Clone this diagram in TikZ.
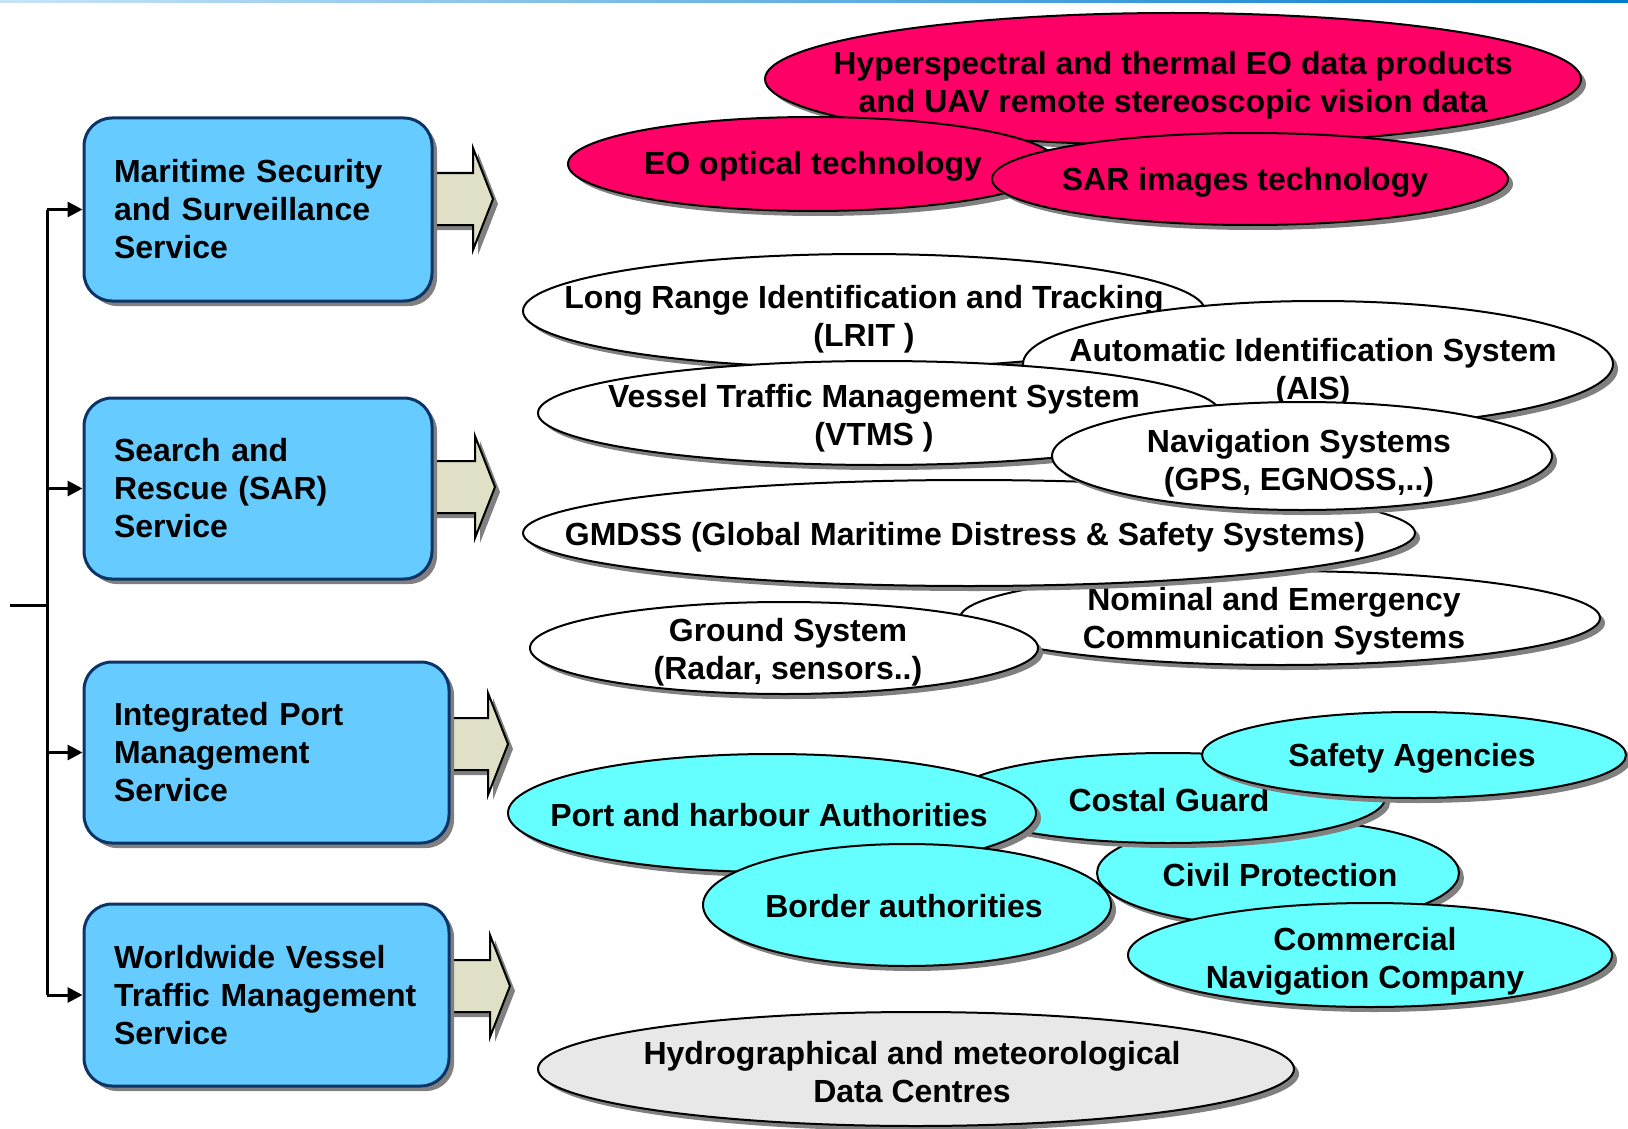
\documentclass[tikz,border=0pt]{standalone}
\usepackage{fontspec}
\setmainfont{Liberation Sans}
\usetikzlibrary{shapes.geometric,shadows,arrows.meta}
\definecolor{boxblue}{RGB}{102,204,255}
\definecolor{boxline}{RGB}{12,52,102}
\definecolor{arrowfill}{RGB}{224,224,198}
\definecolor{redfill}{RGB}{255,0,102}
\definecolor{cyanfill}{RGB}{102,255,255}
\definecolor{grayfill}{RGB}{232,232,232}
\definecolor{shadowgray}{RGB}{128,128,128}
\definecolor{toplight}{RGB}{200,228,248}
\definecolor{topdark}{RGB}{0,122,204}
\newcommand\dfont{\fontsize{16pt}{19pt}\selectfont\bfseries}
\tikzset{
  shadowed/.style={drop shadow={shadow xshift=2.5pt,shadow yshift=-2.5pt,opacity=1,fill=shadowgray}},
  service/.style={shadowed,draw=boxline,line width=1.5pt,fill=boxblue,rounded corners=14pt,
    align=left,inner xsep=15pt,inner ysep=0pt,font=\dfont},
  oval/.style 2 args={ellipse,shadowed,draw=black,line width=1pt,inner sep=0pt,
    minimum width=#1pt,minimum height=#2pt},
  txt/.style={align=center,inner sep=0pt,font=\dfont},
  barrow/.style={shadowed,draw=black,line width=1pt,fill=arrowfill,line join=miter},
  conn/.style={line width=1.5pt,draw=black},
  connarrow/.style={conn,-{Triangle[length=7.5pt,width=7.5pt]}}
}
% block arrow: start x, head base x, tip x, centre y
\newcommand\blockarrow[4]{%
  \draw[barrow] (#1,{#4-26}) -- (#2,{#4-26}) -- (#2,{#4-51}) -- (#3,#4) -- (#2,{#4+51}) -- (#2,{#4+26}) -- (#1,{#4+26}) -- cycle;}
\begin{document}
\begin{tikzpicture}[x=0.5pt,y=-0.5pt]
\useasboundingbox (0,0) rectangle (1628,1129);
\fill[left color=toplight,right color=topdark] (0,0) rectangle (1628,3);

% block arrows (behind the boxes)
\blockarrow{420}{473}{493}{199}
\blockarrow{420}{475}{495}{487}
\blockarrow{437}{488}{508}{744}
\blockarrow{437}{490}{510}{986}

% service boxes
\node[service,minimum width=174pt,minimum height=91.5pt,text width=144pt] (mss) at (258,209.5)
  {Maritime Security\\and Surveillance\\Service};
\node[service,minimum width=174pt,minimum height=90.5pt,text width=144pt] (sar) at (258,488.5)
  {Search and\\Rescue (SAR)\\Service};
\node[service,minimum width=182.5pt,minimum height=90.5pt,text width=152.5pt] (ipm) at (266.5,752.5)
  {Integrated Port\\Management\\Service};
\node[service,minimum width=182.5pt,minimum height=91pt,text width=152.5pt] (wvt) at (266.5,995)
  {Worldwide Vessel\\Traffic Management\\Service};

% bracket connectors
\coordinate (j1) at (47,209.5);
\coordinate (j2) at (47,488.5);
\coordinate (j3) at (47,752.5);
\coordinate (j4) at (47,995);
\coordinate (jm) at (47,605);
\coordinate (in) at (10,605);
\draw[conn] (j1) -- (j4);
\draw[conn] (in) -- (jm);
\draw[connarrow] (j1) -- (mss.west);
\draw[connarrow] (j2) -- (sar.west);
\draw[connarrow] (j3) -- (ipm.west);
\draw[connarrow] (j4) -- (wvt.west);

% red ellipses
\node[oval={408}{66},fill=redfill] (hyper) at (1173,79) {};
\node[txt] (hyperT) at (1173,85) {Hyperspectral and thermal EO data products\\and UAV remote stereoscopic vision data};
\node[oval={245}{47},fill=redfill] (eo) at (813,164) {};
\node[txt] (eoT) at (813,166) {EO optical technology};
\node[oval={258}{46},fill=redfill] (sarimg) at (1250,179) {};
\node[txt] (sarimgT) at (1245,182) {SAR images technology};

% white ellipses
\node[oval={341}{57},fill=white] (lrit) at (864,311) {};
\node[txt] (lritT) at (864,319) {Long Range Identification and Tracking\\(LRIT )};
\node[oval={295}{63},fill=white] (ais) at (1318,364) {};
\node[txt] (aisT) at (1313,372) {Automatic Identification System\\(AIS)};
\node[oval={341}{52},fill=white] (vtms) at (879,413) {};
\node[txt] (vtmsT) at (874,418) {Vessel Traffic Management System\\(VTMS )};
\node[oval={320}{47},fill=white] (nom) at (1280,618) {};
\node[txt] (nomT) at (1274,621) {Nominal and Emergency\\Communication Systems};
\node[oval={446}{53},fill=white] (gmdss) at (969,533) {};
\node[txt] (gmdssT) at (965,537) {GMDSS (Global Maritime Distress \& Safety Systems)};
\node[oval={250}{54},fill=white] (nav) at (1302,456) {};
\node[txt] (navT) at (1299,463) {Navigation Systems\\(GPS, EGNOSS,..)};
\node[oval={254}{46},fill=white] (ground) at (784,648) {};
\node[txt] (groundT) at (788,652) {Ground System\\(Radar, sensors..)};

% cyan ellipses
\node[oval={181}{53},fill=cyanfill] (civil) at (1278,873) {};
\node[txt] (civilT) at (1280,875) {Civil Protection};
\node[oval={217}{45},fill=cyanfill] (coast) at (1168,798) {};
\node[txt] (coastT) at (1169,800) {Costal Guard};
\node[oval={212}{43},fill=cyanfill] (safety) at (1414,755) {};
\node[txt] (safetyT) at (1412,758) {Safety Agencies};
\node[oval={264}{59},fill=cyanfill] (port) at (772,813) {};
\node[txt] (portT) at (769,815) {Port and harbour Authorities};
\node[oval={204}{61},fill=cyanfill] (border) at (907,905) {};
\node[txt] (borderT) at (904,906) {Border authorities};
\node[oval={242}{52},fill=cyanfill] (comm) at (1370,955) {};
\node[txt] (commT) at (1365,961) {Commercial\\Navigation Company};

% gray ellipse
\node[oval={378}{57},fill=grayfill] (hydro) at (916,1069) {};
\node[txt] (hydroT) at (912,1072) {Hydrographical and meteorological\\Data Centres};
\end{tikzpicture}
\end{document}
